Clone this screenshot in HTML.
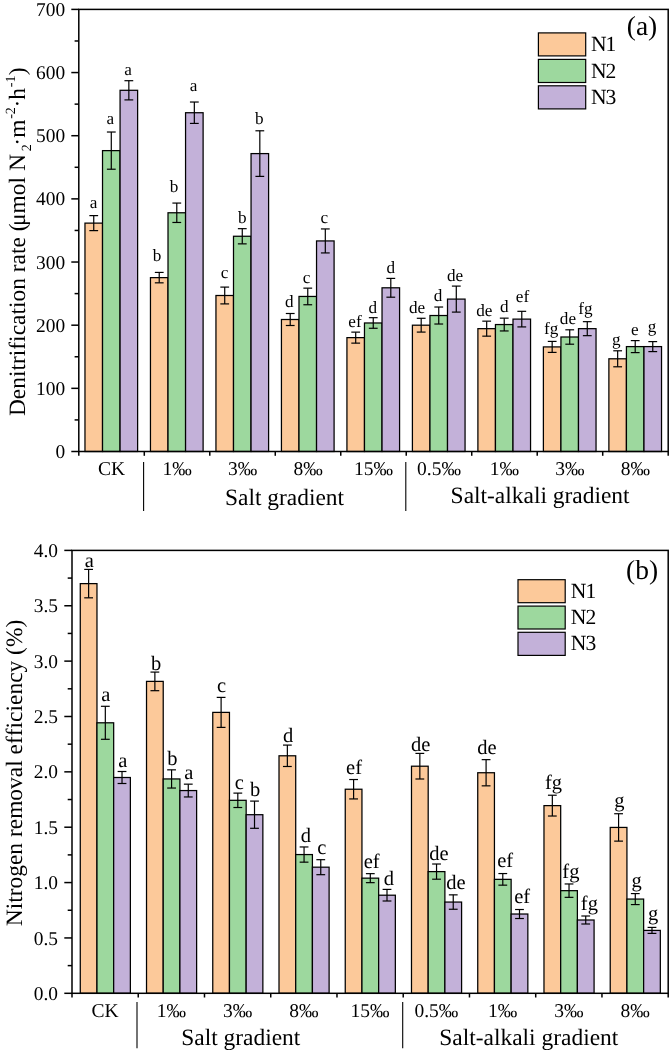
<!DOCTYPE html>
<html><head><meta charset="utf-8"><title>Figure</title>
<style>
html,body{margin:0;padding:0;background:#fff;}
body{width:670px;height:1054px;overflow:hidden;font-family:'Liberation Serif', serif;}
svg{display:block;will-change:transform;font-family:"Liberation Serif",serif;fill:#000;}
svg text{fill:#000;text-rendering:geometricPrecision;font-variant-ligatures:none;font-kerning:none;}
</style></head><body>
<svg width="670" height="1054" viewBox="0 0 670 1054">
<rect x="0" y="0" width="670" height="1054" fill="#fff"/>
<rect x="84.97" y="223.12" width="17.55" height="228.38" fill="#FCC99A" stroke="#000" stroke-width="1.25"/>
<line x1="93.74" y1="215.62" x2="93.74" y2="230.62" stroke="#000" stroke-width="1.2"/>
<line x1="89.34" y1="215.62" x2="98.14" y2="215.62" stroke="#000" stroke-width="1.2"/>
<line x1="89.34" y1="230.62" x2="98.14" y2="230.62" stroke="#000" stroke-width="1.2"/>
<text x="93.50" y="208.20" font-size="17.2" text-anchor="middle" >a</text>
<rect x="102.52" y="150.62" width="17.55" height="300.88" fill="#9DD89E" stroke="#000" stroke-width="1.25"/>
<line x1="111.29" y1="132.02" x2="111.29" y2="169.22" stroke="#000" stroke-width="1.2"/>
<line x1="106.89" y1="132.02" x2="115.69" y2="132.02" stroke="#000" stroke-width="1.2"/>
<line x1="106.89" y1="169.22" x2="115.69" y2="169.22" stroke="#000" stroke-width="1.2"/>
<text x="110.20" y="123.70" font-size="17.2" text-anchor="middle" >a</text>
<rect x="120.07" y="90.30" width="17.55" height="361.20" fill="#C3B1D9" stroke="#000" stroke-width="1.25"/>
<line x1="128.84" y1="80.70" x2="128.84" y2="99.90" stroke="#000" stroke-width="1.2"/>
<line x1="124.44" y1="80.70" x2="133.24" y2="80.70" stroke="#000" stroke-width="1.2"/>
<line x1="124.44" y1="99.90" x2="133.24" y2="99.90" stroke="#000" stroke-width="1.2"/>
<text x="128.10" y="74.50" font-size="17.2" text-anchor="middle" >a</text>
<rect x="150.46" y="277.63" width="17.55" height="173.87" fill="#FCC99A" stroke="#000" stroke-width="1.25"/>
<line x1="159.23" y1="272.43" x2="159.23" y2="282.83" stroke="#000" stroke-width="1.2"/>
<line x1="154.83" y1="272.43" x2="163.63" y2="272.43" stroke="#000" stroke-width="1.2"/>
<line x1="154.83" y1="282.83" x2="163.63" y2="282.83" stroke="#000" stroke-width="1.2"/>
<text x="157.00" y="260.60" font-size="17.2" text-anchor="middle" >b</text>
<rect x="168.01" y="212.77" width="17.55" height="238.73" fill="#9DD89E" stroke="#000" stroke-width="1.25"/>
<line x1="176.78" y1="203.07" x2="176.78" y2="222.47" stroke="#000" stroke-width="1.2"/>
<line x1="172.38" y1="203.07" x2="181.18" y2="203.07" stroke="#000" stroke-width="1.2"/>
<line x1="172.38" y1="222.47" x2="181.18" y2="222.47" stroke="#000" stroke-width="1.2"/>
<text x="174.10" y="192.40" font-size="17.2" text-anchor="middle" >b</text>
<rect x="185.56" y="112.73" width="17.55" height="338.77" fill="#C3B1D9" stroke="#000" stroke-width="1.25"/>
<line x1="194.33" y1="102.03" x2="194.33" y2="123.43" stroke="#000" stroke-width="1.2"/>
<line x1="189.93" y1="102.03" x2="198.73" y2="102.03" stroke="#000" stroke-width="1.2"/>
<line x1="189.93" y1="123.43" x2="198.73" y2="123.43" stroke="#000" stroke-width="1.2"/>
<text x="193.50" y="91.20" font-size="17.2" text-anchor="middle" >a</text>
<rect x="215.95" y="295.50" width="17.55" height="156.00" fill="#FCC99A" stroke="#000" stroke-width="1.25"/>
<line x1="224.72" y1="287.10" x2="224.72" y2="303.90" stroke="#000" stroke-width="1.2"/>
<line x1="220.32" y1="287.10" x2="229.12" y2="287.10" stroke="#000" stroke-width="1.2"/>
<line x1="220.32" y1="303.90" x2="229.12" y2="303.90" stroke="#000" stroke-width="1.2"/>
<text x="224.50" y="278.20" font-size="17.2" text-anchor="middle" >c</text>
<rect x="233.50" y="236.26" width="17.55" height="215.24" fill="#9DD89E" stroke="#000" stroke-width="1.25"/>
<line x1="242.27" y1="228.66" x2="242.27" y2="243.86" stroke="#000" stroke-width="1.2"/>
<line x1="237.87" y1="228.66" x2="246.67" y2="228.66" stroke="#000" stroke-width="1.2"/>
<line x1="237.87" y1="243.86" x2="246.67" y2="243.86" stroke="#000" stroke-width="1.2"/>
<text x="242.30" y="223.00" font-size="17.2" text-anchor="middle" >b</text>
<rect x="251.05" y="153.59" width="17.55" height="297.91" fill="#C3B1D9" stroke="#000" stroke-width="1.25"/>
<line x1="259.82" y1="130.79" x2="259.82" y2="176.39" stroke="#000" stroke-width="1.2"/>
<line x1="255.42" y1="130.79" x2="264.22" y2="130.79" stroke="#000" stroke-width="1.2"/>
<line x1="255.42" y1="176.39" x2="264.22" y2="176.39" stroke="#000" stroke-width="1.2"/>
<text x="259.20" y="123.70" font-size="17.2" text-anchor="middle" >b</text>
<rect x="281.44" y="319.50" width="17.55" height="132.00" fill="#FCC99A" stroke="#000" stroke-width="1.25"/>
<line x1="290.21" y1="313.50" x2="290.21" y2="325.50" stroke="#000" stroke-width="1.2"/>
<line x1="285.81" y1="313.50" x2="294.61" y2="313.50" stroke="#000" stroke-width="1.2"/>
<line x1="285.81" y1="325.50" x2="294.61" y2="325.50" stroke="#000" stroke-width="1.2"/>
<text x="289.30" y="306.90" font-size="17.2" text-anchor="middle" >d</text>
<rect x="298.99" y="296.45" width="17.55" height="155.05" fill="#9DD89E" stroke="#000" stroke-width="1.25"/>
<line x1="307.76" y1="288.15" x2="307.76" y2="304.75" stroke="#000" stroke-width="1.2"/>
<line x1="303.36" y1="288.15" x2="312.16" y2="288.15" stroke="#000" stroke-width="1.2"/>
<line x1="303.36" y1="304.75" x2="312.16" y2="304.75" stroke="#000" stroke-width="1.2"/>
<text x="306.60" y="283.00" font-size="17.2" text-anchor="middle" >c</text>
<rect x="316.54" y="240.93" width="17.55" height="210.57" fill="#C3B1D9" stroke="#000" stroke-width="1.25"/>
<line x1="325.31" y1="228.93" x2="325.31" y2="252.93" stroke="#000" stroke-width="1.2"/>
<line x1="320.91" y1="228.93" x2="329.71" y2="228.93" stroke="#000" stroke-width="1.2"/>
<line x1="320.91" y1="252.93" x2="329.71" y2="252.93" stroke="#000" stroke-width="1.2"/>
<text x="324.20" y="223.00" font-size="17.2" text-anchor="middle" >c</text>
<rect x="346.93" y="337.63" width="17.55" height="113.87" fill="#FCC99A" stroke="#000" stroke-width="1.25"/>
<line x1="355.70" y1="332.13" x2="355.70" y2="343.13" stroke="#000" stroke-width="1.2"/>
<line x1="351.30" y1="332.13" x2="360.10" y2="332.13" stroke="#000" stroke-width="1.2"/>
<line x1="351.30" y1="343.13" x2="360.10" y2="343.13" stroke="#000" stroke-width="1.2"/>
<text x="355.00" y="326.60" font-size="17.2" text-anchor="middle" >ef</text>
<rect x="364.48" y="322.98" width="17.55" height="128.52" fill="#9DD89E" stroke="#000" stroke-width="1.25"/>
<line x1="373.25" y1="317.68" x2="373.25" y2="328.28" stroke="#000" stroke-width="1.2"/>
<line x1="368.85" y1="317.68" x2="377.65" y2="317.68" stroke="#000" stroke-width="1.2"/>
<line x1="368.85" y1="328.28" x2="377.65" y2="328.28" stroke="#000" stroke-width="1.2"/>
<text x="372.90" y="312.50" font-size="17.2" text-anchor="middle" >d</text>
<rect x="382.03" y="287.80" width="17.55" height="163.70" fill="#C3B1D9" stroke="#000" stroke-width="1.25"/>
<line x1="390.80" y1="278.40" x2="390.80" y2="297.20" stroke="#000" stroke-width="1.2"/>
<line x1="386.40" y1="278.40" x2="395.20" y2="278.40" stroke="#000" stroke-width="1.2"/>
<line x1="386.40" y1="297.20" x2="395.20" y2="297.20" stroke="#000" stroke-width="1.2"/>
<text x="390.80" y="272.80" font-size="17.2" text-anchor="middle" >d</text>
<rect x="412.41" y="325.19" width="17.55" height="126.31" fill="#FCC99A" stroke="#000" stroke-width="1.25"/>
<line x1="421.19" y1="318.29" x2="421.19" y2="332.09" stroke="#000" stroke-width="1.2"/>
<line x1="416.79" y1="318.29" x2="425.59" y2="318.29" stroke="#000" stroke-width="1.2"/>
<line x1="416.79" y1="332.09" x2="425.59" y2="332.09" stroke="#000" stroke-width="1.2"/>
<text x="417.10" y="312.50" font-size="17.2" text-anchor="middle" >de</text>
<rect x="429.96" y="315.52" width="17.55" height="135.98" fill="#9DD89E" stroke="#000" stroke-width="1.25"/>
<line x1="438.74" y1="307.02" x2="438.74" y2="324.02" stroke="#000" stroke-width="1.2"/>
<line x1="434.34" y1="307.02" x2="443.14" y2="307.02" stroke="#000" stroke-width="1.2"/>
<line x1="434.34" y1="324.02" x2="443.14" y2="324.02" stroke="#000" stroke-width="1.2"/>
<text x="438.00" y="300.60" font-size="17.2" text-anchor="middle" >d</text>
<rect x="447.51" y="299.10" width="17.55" height="152.40" fill="#C3B1D9" stroke="#000" stroke-width="1.25"/>
<line x1="456.29" y1="286.10" x2="456.29" y2="312.10" stroke="#000" stroke-width="1.2"/>
<line x1="451.89" y1="286.10" x2="460.69" y2="286.10" stroke="#000" stroke-width="1.2"/>
<line x1="451.89" y1="312.10" x2="460.69" y2="312.10" stroke="#000" stroke-width="1.2"/>
<text x="455.00" y="280.90" font-size="17.2" text-anchor="middle" >de</text>
<rect x="477.90" y="328.66" width="17.55" height="122.84" fill="#FCC99A" stroke="#000" stroke-width="1.25"/>
<line x1="486.68" y1="321.16" x2="486.68" y2="336.16" stroke="#000" stroke-width="1.2"/>
<line x1="482.28" y1="321.16" x2="491.08" y2="321.16" stroke="#000" stroke-width="1.2"/>
<line x1="482.28" y1="336.16" x2="491.08" y2="336.16" stroke="#000" stroke-width="1.2"/>
<text x="484.30" y="316.10" font-size="17.2" text-anchor="middle" >de</text>
<rect x="495.45" y="324.55" width="17.55" height="126.95" fill="#9DD89E" stroke="#000" stroke-width="1.25"/>
<line x1="504.23" y1="318.15" x2="504.23" y2="330.95" stroke="#000" stroke-width="1.2"/>
<line x1="499.83" y1="318.15" x2="508.63" y2="318.15" stroke="#000" stroke-width="1.2"/>
<line x1="499.83" y1="330.95" x2="508.63" y2="330.95" stroke="#000" stroke-width="1.2"/>
<text x="504.30" y="311.60" font-size="17.2" text-anchor="middle" >d</text>
<rect x="513.00" y="319.12" width="17.55" height="132.38" fill="#C3B1D9" stroke="#000" stroke-width="1.25"/>
<line x1="521.78" y1="311.32" x2="521.78" y2="326.92" stroke="#000" stroke-width="1.2"/>
<line x1="517.38" y1="311.32" x2="526.18" y2="311.32" stroke="#000" stroke-width="1.2"/>
<line x1="517.38" y1="326.92" x2="526.18" y2="326.92" stroke="#000" stroke-width="1.2"/>
<text x="522.50" y="301.80" font-size="17.2" text-anchor="middle" >ef</text>
<rect x="543.39" y="346.91" width="17.55" height="104.59" fill="#FCC99A" stroke="#000" stroke-width="1.25"/>
<line x1="552.17" y1="341.41" x2="552.17" y2="352.41" stroke="#000" stroke-width="1.2"/>
<line x1="547.77" y1="341.41" x2="556.57" y2="341.41" stroke="#000" stroke-width="1.2"/>
<line x1="547.77" y1="352.41" x2="556.57" y2="352.41" stroke="#000" stroke-width="1.2"/>
<text x="551.20" y="333.70" font-size="17.2" text-anchor="middle" >fg</text>
<rect x="560.94" y="337.00" width="17.55" height="114.50" fill="#9DD89E" stroke="#000" stroke-width="1.25"/>
<line x1="569.72" y1="329.80" x2="569.72" y2="344.20" stroke="#000" stroke-width="1.2"/>
<line x1="565.32" y1="329.80" x2="574.12" y2="329.80" stroke="#000" stroke-width="1.2"/>
<line x1="565.32" y1="344.20" x2="574.12" y2="344.20" stroke="#000" stroke-width="1.2"/>
<text x="567.90" y="323.60" font-size="17.2" text-anchor="middle" >de</text>
<rect x="578.49" y="328.66" width="17.55" height="122.84" fill="#C3B1D9" stroke="#000" stroke-width="1.25"/>
<line x1="587.27" y1="321.66" x2="587.27" y2="335.66" stroke="#000" stroke-width="1.2"/>
<line x1="582.87" y1="321.66" x2="591.67" y2="321.66" stroke="#000" stroke-width="1.2"/>
<line x1="582.87" y1="335.66" x2="591.67" y2="335.66" stroke="#000" stroke-width="1.2"/>
<text x="585.50" y="313.90" font-size="17.2" text-anchor="middle" >fg</text>
<rect x="608.88" y="358.79" width="17.55" height="92.71" fill="#FCC99A" stroke="#000" stroke-width="1.25"/>
<line x1="617.66" y1="350.79" x2="617.66" y2="366.79" stroke="#000" stroke-width="1.2"/>
<line x1="613.26" y1="350.79" x2="622.06" y2="350.79" stroke="#000" stroke-width="1.2"/>
<line x1="613.26" y1="366.79" x2="622.06" y2="366.79" stroke="#000" stroke-width="1.2"/>
<text x="616.30" y="345.00" font-size="17.2" text-anchor="middle" >g</text>
<rect x="626.43" y="346.60" width="17.55" height="104.90" fill="#9DD89E" stroke="#000" stroke-width="1.25"/>
<line x1="635.21" y1="340.60" x2="635.21" y2="352.60" stroke="#000" stroke-width="1.2"/>
<line x1="630.81" y1="340.60" x2="639.61" y2="340.60" stroke="#000" stroke-width="1.2"/>
<line x1="630.81" y1="352.60" x2="639.61" y2="352.60" stroke="#000" stroke-width="1.2"/>
<text x="634.80" y="334.60" font-size="17.2" text-anchor="middle" >e</text>
<rect x="643.98" y="346.60" width="17.55" height="104.90" fill="#C3B1D9" stroke="#000" stroke-width="1.25"/>
<line x1="652.76" y1="341.60" x2="652.76" y2="351.60" stroke="#000" stroke-width="1.2"/>
<line x1="648.36" y1="341.60" x2="657.16" y2="341.60" stroke="#000" stroke-width="1.2"/>
<line x1="648.36" y1="351.60" x2="657.16" y2="351.60" stroke="#000" stroke-width="1.2"/>
<text x="652.10" y="332.30" font-size="17.2" text-anchor="middle" >g</text>
<rect x="78.80" y="9.40" width="589.40" height="442.10" fill="none" stroke="#000" stroke-width="1.5"/>
<line x1="71.30" y1="451.50" x2="78.80" y2="451.50" stroke="#000" stroke-width="1.5"/>
<text x="65.20" y="458.10" font-size="19.4" text-anchor="end" >0</text>
<line x1="74.60" y1="419.92" x2="78.80" y2="419.92" stroke="#000" stroke-width="1.5"/>
<line x1="71.30" y1="388.34" x2="78.80" y2="388.34" stroke="#000" stroke-width="1.5"/>
<text x="65.20" y="394.94" font-size="19.4" text-anchor="end" >100</text>
<line x1="74.60" y1="356.76" x2="78.80" y2="356.76" stroke="#000" stroke-width="1.5"/>
<line x1="71.30" y1="325.19" x2="78.80" y2="325.19" stroke="#000" stroke-width="1.5"/>
<text x="65.20" y="331.79" font-size="19.4" text-anchor="end" >200</text>
<line x1="74.60" y1="293.61" x2="78.80" y2="293.61" stroke="#000" stroke-width="1.5"/>
<line x1="71.30" y1="262.03" x2="78.80" y2="262.03" stroke="#000" stroke-width="1.5"/>
<text x="65.20" y="268.63" font-size="19.4" text-anchor="end" >300</text>
<line x1="74.60" y1="230.45" x2="78.80" y2="230.45" stroke="#000" stroke-width="1.5"/>
<line x1="71.30" y1="198.87" x2="78.80" y2="198.87" stroke="#000" stroke-width="1.5"/>
<text x="65.20" y="205.47" font-size="19.4" text-anchor="end" >400</text>
<line x1="74.60" y1="167.29" x2="78.80" y2="167.29" stroke="#000" stroke-width="1.5"/>
<line x1="71.30" y1="135.71" x2="78.80" y2="135.71" stroke="#000" stroke-width="1.5"/>
<text x="65.20" y="142.31" font-size="19.4" text-anchor="end" >500</text>
<line x1="74.60" y1="104.14" x2="78.80" y2="104.14" stroke="#000" stroke-width="1.5"/>
<line x1="71.30" y1="72.56" x2="78.80" y2="72.56" stroke="#000" stroke-width="1.5"/>
<text x="65.20" y="79.16" font-size="19.4" text-anchor="end" >600</text>
<line x1="74.60" y1="40.98" x2="78.80" y2="40.98" stroke="#000" stroke-width="1.5"/>
<line x1="71.30" y1="9.40" x2="78.80" y2="9.40" stroke="#000" stroke-width="1.5"/>
<text x="65.20" y="16.00" font-size="19.4" text-anchor="end" >700</text>
<line x1="78.80" y1="451.50" x2="78.80" y2="455.80" stroke="#000" stroke-width="1.5"/>
<line x1="144.29" y1="451.50" x2="144.29" y2="455.80" stroke="#000" stroke-width="1.5"/>
<line x1="209.78" y1="451.50" x2="209.78" y2="455.80" stroke="#000" stroke-width="1.5"/>
<line x1="275.27" y1="451.50" x2="275.27" y2="455.80" stroke="#000" stroke-width="1.5"/>
<line x1="340.76" y1="451.50" x2="340.76" y2="455.80" stroke="#000" stroke-width="1.5"/>
<line x1="406.24" y1="451.50" x2="406.24" y2="455.80" stroke="#000" stroke-width="1.5"/>
<line x1="471.73" y1="451.50" x2="471.73" y2="455.80" stroke="#000" stroke-width="1.5"/>
<line x1="537.22" y1="451.50" x2="537.22" y2="455.80" stroke="#000" stroke-width="1.5"/>
<line x1="602.71" y1="451.50" x2="602.71" y2="455.80" stroke="#000" stroke-width="1.5"/>
<line x1="668.20" y1="451.50" x2="668.20" y2="455.80" stroke="#000" stroke-width="1.5"/>
<text x="111.54" y="475.40" font-size="19.5" text-anchor="middle" >CK</text>
<text x="177.03" y="475.40" font-size="19.5" text-anchor="middle" >1‰</text>
<text x="242.52" y="475.40" font-size="19.5" text-anchor="middle" >3‰</text>
<text x="308.01" y="475.40" font-size="19.5" text-anchor="middle" >8‰</text>
<text x="373.50" y="475.40" font-size="19.5" text-anchor="middle" >15‰</text>
<text x="438.99" y="475.40" font-size="19.5" text-anchor="middle" >0.5‰</text>
<text x="504.48" y="475.40" font-size="19.5" text-anchor="middle" >1‰</text>
<text x="569.97" y="475.40" font-size="19.5" text-anchor="middle" >3‰</text>
<text x="635.46" y="475.40" font-size="19.5" text-anchor="middle" >8‰</text>
<line x1="143.60" y1="462.00" x2="143.60" y2="511.00" stroke="#000" stroke-width="1.1"/>
<line x1="405.80" y1="462.00" x2="405.80" y2="511.00" stroke="#000" stroke-width="1.1"/>
<text x="284.50" y="504.70" font-size="23.45" text-anchor="middle" >Salt gradient</text>
<text x="540.10" y="503.10" font-size="23.45" text-anchor="middle" >Salt-alkali gradient</text>
<rect x="538.40" y="32.90" width="47.30" height="23.00" fill="#FCC99A" stroke="#000" stroke-width="1.2"/>
<text x="590.90" y="51.20" font-size="21.6" text-anchor="start" letter-spacing="-0.9">N1</text>
<rect x="538.40" y="59.40" width="47.30" height="23.10" fill="#9DD89E" stroke="#000" stroke-width="1.2"/>
<text x="590.90" y="77.70" font-size="21.6" text-anchor="start" letter-spacing="-0.9">N2</text>
<rect x="538.40" y="85.80" width="47.30" height="23.10" fill="#C3B1D9" stroke="#000" stroke-width="1.2"/>
<text x="590.90" y="104.20" font-size="21.6" text-anchor="start" letter-spacing="-0.9">N3</text>
<text x="642.00" y="35.00" font-size="27.5" text-anchor="middle" >(a)</text>
<text transform="translate(24.80,241.70) rotate(-90)" font-size="23.45" text-anchor="middle">Denitrification rate (<tspan dx="-2.5">μmol N</tspan><tspan font-size="14" dy="6" dx="2.8">2</tspan><tspan dy="-6" dx="-1.3">·m</tspan><tspan font-size="14" dy="-10" dx="0.8">-2</tspan><tspan dy="10" dx="-0.3">·h</tspan><tspan font-size="14" dy="-10" dx="0.7">-1</tspan><tspan dy="10" dx="0.4">)</tspan></text>
<rect x="80.27" y="583.62" width="16.70" height="409.68" fill="#FCC99A" stroke="#000" stroke-width="1.25"/>
<line x1="88.62" y1="569.42" x2="88.62" y2="597.82" stroke="#000" stroke-width="1.2"/>
<line x1="84.22" y1="569.42" x2="93.02" y2="569.42" stroke="#000" stroke-width="1.2"/>
<line x1="84.22" y1="597.82" x2="93.02" y2="597.82" stroke="#000" stroke-width="1.2"/>
<text x="89.30" y="567.20" font-size="20.5" text-anchor="middle" >a</text>
<rect x="96.97" y="722.80" width="16.70" height="270.50" fill="#9DD89E" stroke="#000" stroke-width="1.25"/>
<line x1="105.32" y1="706.30" x2="105.32" y2="739.30" stroke="#000" stroke-width="1.2"/>
<line x1="100.92" y1="706.30" x2="109.72" y2="706.30" stroke="#000" stroke-width="1.2"/>
<line x1="100.92" y1="739.30" x2="109.72" y2="739.30" stroke="#000" stroke-width="1.2"/>
<text x="105.80" y="701.20" font-size="20.5" text-anchor="middle" >a</text>
<rect x="113.67" y="777.50" width="16.70" height="215.80" fill="#C3B1D9" stroke="#000" stroke-width="1.25"/>
<line x1="122.02" y1="771.50" x2="122.02" y2="783.50" stroke="#000" stroke-width="1.2"/>
<line x1="117.62" y1="771.50" x2="126.42" y2="771.50" stroke="#000" stroke-width="1.2"/>
<line x1="117.62" y1="783.50" x2="126.42" y2="783.50" stroke="#000" stroke-width="1.2"/>
<text x="122.80" y="767.00" font-size="20.5" text-anchor="middle" >a</text>
<rect x="146.52" y="681.39" width="16.70" height="311.91" fill="#FCC99A" stroke="#000" stroke-width="1.25"/>
<line x1="154.87" y1="672.09" x2="154.87" y2="690.69" stroke="#000" stroke-width="1.2"/>
<line x1="150.47" y1="672.09" x2="159.27" y2="672.09" stroke="#000" stroke-width="1.2"/>
<line x1="150.47" y1="690.69" x2="159.27" y2="690.69" stroke="#000" stroke-width="1.2"/>
<text x="156.00" y="670.00" font-size="20.5" text-anchor="middle" >b</text>
<rect x="163.22" y="778.94" width="16.70" height="214.36" fill="#9DD89E" stroke="#000" stroke-width="1.25"/>
<line x1="171.57" y1="769.84" x2="171.57" y2="788.04" stroke="#000" stroke-width="1.2"/>
<line x1="167.17" y1="769.84" x2="175.97" y2="769.84" stroke="#000" stroke-width="1.2"/>
<line x1="167.17" y1="788.04" x2="175.97" y2="788.04" stroke="#000" stroke-width="1.2"/>
<text x="172.40" y="765.20" font-size="20.5" text-anchor="middle" >b</text>
<rect x="179.92" y="790.56" width="16.70" height="202.74" fill="#C3B1D9" stroke="#000" stroke-width="1.25"/>
<line x1="188.27" y1="784.16" x2="188.27" y2="796.96" stroke="#000" stroke-width="1.2"/>
<line x1="183.87" y1="784.16" x2="192.67" y2="784.16" stroke="#000" stroke-width="1.2"/>
<line x1="183.87" y1="796.96" x2="192.67" y2="796.96" stroke="#000" stroke-width="1.2"/>
<text x="188.80" y="779.00" font-size="20.5" text-anchor="middle" >a</text>
<rect x="212.76" y="712.39" width="16.70" height="280.91" fill="#FCC99A" stroke="#000" stroke-width="1.25"/>
<line x1="221.11" y1="697.39" x2="221.11" y2="727.39" stroke="#000" stroke-width="1.2"/>
<line x1="216.71" y1="697.39" x2="225.51" y2="697.39" stroke="#000" stroke-width="1.2"/>
<line x1="216.71" y1="727.39" x2="225.51" y2="727.39" stroke="#000" stroke-width="1.2"/>
<text x="221.60" y="691.60" font-size="20.5" text-anchor="middle" >c</text>
<rect x="229.46" y="800.31" width="16.70" height="192.99" fill="#9DD89E" stroke="#000" stroke-width="1.25"/>
<line x1="237.81" y1="793.11" x2="237.81" y2="807.51" stroke="#000" stroke-width="1.2"/>
<line x1="233.41" y1="793.11" x2="242.21" y2="793.11" stroke="#000" stroke-width="1.2"/>
<line x1="233.41" y1="807.51" x2="242.21" y2="807.51" stroke="#000" stroke-width="1.2"/>
<text x="239.30" y="788.50" font-size="20.5" text-anchor="middle" >c</text>
<rect x="246.16" y="814.70" width="16.70" height="178.60" fill="#C3B1D9" stroke="#000" stroke-width="1.25"/>
<line x1="254.51" y1="801.10" x2="254.51" y2="828.30" stroke="#000" stroke-width="1.2"/>
<line x1="250.11" y1="801.10" x2="258.91" y2="801.10" stroke="#000" stroke-width="1.2"/>
<line x1="250.11" y1="828.30" x2="258.91" y2="828.30" stroke="#000" stroke-width="1.2"/>
<text x="255.10" y="796.00" font-size="20.5" text-anchor="middle" >b</text>
<rect x="279.01" y="755.79" width="16.70" height="237.51" fill="#FCC99A" stroke="#000" stroke-width="1.25"/>
<line x1="287.36" y1="745.09" x2="287.36" y2="766.49" stroke="#000" stroke-width="1.2"/>
<line x1="282.96" y1="745.09" x2="291.76" y2="745.09" stroke="#000" stroke-width="1.2"/>
<line x1="282.96" y1="766.49" x2="291.76" y2="766.49" stroke="#000" stroke-width="1.2"/>
<text x="288.00" y="741.50" font-size="20.5" text-anchor="middle" >d</text>
<rect x="295.71" y="854.56" width="16.70" height="138.74" fill="#9DD89E" stroke="#000" stroke-width="1.25"/>
<line x1="304.06" y1="846.96" x2="304.06" y2="862.16" stroke="#000" stroke-width="1.2"/>
<line x1="299.66" y1="846.96" x2="308.46" y2="846.96" stroke="#000" stroke-width="1.2"/>
<line x1="299.66" y1="862.16" x2="308.46" y2="862.16" stroke="#000" stroke-width="1.2"/>
<text x="305.90" y="841.80" font-size="20.5" text-anchor="middle" >d</text>
<rect x="312.41" y="867.18" width="16.70" height="126.12" fill="#C3B1D9" stroke="#000" stroke-width="1.25"/>
<line x1="320.76" y1="859.68" x2="320.76" y2="874.68" stroke="#000" stroke-width="1.2"/>
<line x1="316.36" y1="859.68" x2="325.16" y2="859.68" stroke="#000" stroke-width="1.2"/>
<line x1="316.36" y1="874.68" x2="325.16" y2="874.68" stroke="#000" stroke-width="1.2"/>
<text x="321.70" y="854.30" font-size="20.5" text-anchor="middle" >c</text>
<rect x="345.25" y="789.23" width="16.70" height="204.07" fill="#FCC99A" stroke="#000" stroke-width="1.25"/>
<line x1="353.60" y1="779.53" x2="353.60" y2="798.93" stroke="#000" stroke-width="1.2"/>
<line x1="349.20" y1="779.53" x2="358.00" y2="779.53" stroke="#000" stroke-width="1.2"/>
<line x1="349.20" y1="798.93" x2="358.00" y2="798.93" stroke="#000" stroke-width="1.2"/>
<text x="354.00" y="773.70" font-size="20.5" text-anchor="middle" >ef</text>
<rect x="361.95" y="878.15" width="16.70" height="115.15" fill="#9DD89E" stroke="#000" stroke-width="1.25"/>
<line x1="370.30" y1="873.65" x2="370.30" y2="882.65" stroke="#000" stroke-width="1.2"/>
<line x1="365.90" y1="873.65" x2="374.70" y2="873.65" stroke="#000" stroke-width="1.2"/>
<line x1="365.90" y1="882.65" x2="374.70" y2="882.65" stroke="#000" stroke-width="1.2"/>
<text x="371.60" y="867.80" font-size="20.5" text-anchor="middle" >ef</text>
<rect x="378.65" y="895.20" width="16.70" height="98.10" fill="#C3B1D9" stroke="#000" stroke-width="1.25"/>
<line x1="387.00" y1="889.40" x2="387.00" y2="901.00" stroke="#000" stroke-width="1.2"/>
<line x1="382.60" y1="889.40" x2="391.40" y2="889.40" stroke="#000" stroke-width="1.2"/>
<line x1="382.60" y1="901.00" x2="391.40" y2="901.00" stroke="#000" stroke-width="1.2"/>
<text x="388.90" y="885.10" font-size="20.5" text-anchor="middle" >d</text>
<rect x="411.49" y="766.20" width="16.70" height="227.10" fill="#FCC99A" stroke="#000" stroke-width="1.25"/>
<line x1="419.84" y1="753.40" x2="419.84" y2="779.00" stroke="#000" stroke-width="1.2"/>
<line x1="415.44" y1="753.40" x2="424.24" y2="753.40" stroke="#000" stroke-width="1.2"/>
<line x1="415.44" y1="779.00" x2="424.24" y2="779.00" stroke="#000" stroke-width="1.2"/>
<text x="420.80" y="750.70" font-size="20.5" text-anchor="middle" >de</text>
<rect x="428.19" y="871.61" width="16.70" height="121.69" fill="#9DD89E" stroke="#000" stroke-width="1.25"/>
<line x1="436.54" y1="864.01" x2="436.54" y2="879.21" stroke="#000" stroke-width="1.2"/>
<line x1="432.14" y1="864.01" x2="440.94" y2="864.01" stroke="#000" stroke-width="1.2"/>
<line x1="432.14" y1="879.21" x2="440.94" y2="879.21" stroke="#000" stroke-width="1.2"/>
<text x="439.00" y="859.70" font-size="20.5" text-anchor="middle" >de</text>
<rect x="444.89" y="902.06" width="16.70" height="91.24" fill="#C3B1D9" stroke="#000" stroke-width="1.25"/>
<line x1="453.24" y1="894.86" x2="453.24" y2="909.26" stroke="#000" stroke-width="1.2"/>
<line x1="448.84" y1="894.86" x2="457.64" y2="894.86" stroke="#000" stroke-width="1.2"/>
<line x1="448.84" y1="909.26" x2="457.64" y2="909.26" stroke="#000" stroke-width="1.2"/>
<text x="456.00" y="889.30" font-size="20.5" text-anchor="middle" >de</text>
<rect x="477.74" y="772.74" width="16.70" height="220.56" fill="#FCC99A" stroke="#000" stroke-width="1.25"/>
<line x1="486.09" y1="759.64" x2="486.09" y2="785.84" stroke="#000" stroke-width="1.2"/>
<line x1="481.69" y1="759.64" x2="490.49" y2="759.64" stroke="#000" stroke-width="1.2"/>
<line x1="481.69" y1="785.84" x2="490.49" y2="785.84" stroke="#000" stroke-width="1.2"/>
<text x="487.00" y="754.00" font-size="20.5" text-anchor="middle" >de</text>
<rect x="494.44" y="879.36" width="16.70" height="113.94" fill="#9DD89E" stroke="#000" stroke-width="1.25"/>
<line x1="502.79" y1="873.56" x2="502.79" y2="885.16" stroke="#000" stroke-width="1.2"/>
<line x1="498.39" y1="873.56" x2="507.19" y2="873.56" stroke="#000" stroke-width="1.2"/>
<line x1="498.39" y1="885.16" x2="507.19" y2="885.16" stroke="#000" stroke-width="1.2"/>
<text x="505.20" y="866.90" font-size="20.5" text-anchor="middle" >ef</text>
<rect x="511.14" y="914.02" width="16.70" height="79.28" fill="#C3B1D9" stroke="#000" stroke-width="1.25"/>
<line x1="519.49" y1="909.52" x2="519.49" y2="918.52" stroke="#000" stroke-width="1.2"/>
<line x1="515.09" y1="909.52" x2="523.89" y2="909.52" stroke="#000" stroke-width="1.2"/>
<line x1="515.09" y1="918.52" x2="523.89" y2="918.52" stroke="#000" stroke-width="1.2"/>
<text x="522.20" y="902.70" font-size="20.5" text-anchor="middle" >ef</text>
<rect x="543.98" y="805.62" width="16.70" height="187.68" fill="#FCC99A" stroke="#000" stroke-width="1.25"/>
<line x1="552.33" y1="795.22" x2="552.33" y2="816.02" stroke="#000" stroke-width="1.2"/>
<line x1="547.93" y1="795.22" x2="556.73" y2="795.22" stroke="#000" stroke-width="1.2"/>
<line x1="547.93" y1="816.02" x2="556.73" y2="816.02" stroke="#000" stroke-width="1.2"/>
<text x="553.60" y="788.70" font-size="20.5" text-anchor="middle" >fg</text>
<rect x="560.68" y="890.66" width="16.70" height="102.64" fill="#9DD89E" stroke="#000" stroke-width="1.25"/>
<line x1="569.03" y1="883.96" x2="569.03" y2="897.36" stroke="#000" stroke-width="1.2"/>
<line x1="564.63" y1="883.96" x2="573.43" y2="883.96" stroke="#000" stroke-width="1.2"/>
<line x1="564.63" y1="897.36" x2="573.43" y2="897.36" stroke="#000" stroke-width="1.2"/>
<text x="570.90" y="877.90" font-size="20.5" text-anchor="middle" >fg</text>
<rect x="577.38" y="920.00" width="16.70" height="73.30" fill="#C3B1D9" stroke="#000" stroke-width="1.25"/>
<line x1="585.73" y1="916.00" x2="585.73" y2="924.00" stroke="#000" stroke-width="1.2"/>
<line x1="581.33" y1="916.00" x2="590.13" y2="916.00" stroke="#000" stroke-width="1.2"/>
<line x1="581.33" y1="924.00" x2="590.13" y2="924.00" stroke="#000" stroke-width="1.2"/>
<text x="589.40" y="909.60" font-size="20.5" text-anchor="middle" >fg</text>
<rect x="610.23" y="827.43" width="16.70" height="165.87" fill="#FCC99A" stroke="#000" stroke-width="1.25"/>
<line x1="618.58" y1="813.73" x2="618.58" y2="841.13" stroke="#000" stroke-width="1.2"/>
<line x1="614.18" y1="813.73" x2="622.98" y2="813.73" stroke="#000" stroke-width="1.2"/>
<line x1="614.18" y1="841.13" x2="622.98" y2="841.13" stroke="#000" stroke-width="1.2"/>
<text x="619.30" y="806.90" font-size="20.5" text-anchor="middle" >g</text>
<rect x="626.93" y="899.07" width="16.70" height="94.23" fill="#9DD89E" stroke="#000" stroke-width="1.25"/>
<line x1="635.28" y1="893.57" x2="635.28" y2="904.57" stroke="#000" stroke-width="1.2"/>
<line x1="630.88" y1="893.57" x2="639.68" y2="893.57" stroke="#000" stroke-width="1.2"/>
<line x1="630.88" y1="904.57" x2="639.68" y2="904.57" stroke="#000" stroke-width="1.2"/>
<text x="636.60" y="886.90" font-size="20.5" text-anchor="middle" >g</text>
<rect x="643.63" y="930.41" width="16.70" height="62.89" fill="#C3B1D9" stroke="#000" stroke-width="1.25"/>
<line x1="651.98" y1="927.41" x2="651.98" y2="933.41" stroke="#000" stroke-width="1.2"/>
<line x1="647.58" y1="927.41" x2="656.38" y2="927.41" stroke="#000" stroke-width="1.2"/>
<line x1="647.58" y1="933.41" x2="656.38" y2="933.41" stroke="#000" stroke-width="1.2"/>
<text x="653.00" y="919.90" font-size="20.5" text-anchor="middle" >g</text>
<rect x="72.00" y="550.40" width="596.20" height="442.90" fill="none" stroke="#000" stroke-width="1.5"/>
<line x1="64.30" y1="993.30" x2="72.00" y2="993.30" stroke="#000" stroke-width="1.5"/>
<text x="58.00" y="999.90" font-size="19.4" text-anchor="end" >0.0</text>
<line x1="67.70" y1="965.62" x2="72.00" y2="965.62" stroke="#000" stroke-width="1.5"/>
<line x1="64.30" y1="937.94" x2="72.00" y2="937.94" stroke="#000" stroke-width="1.5"/>
<text x="58.00" y="944.54" font-size="19.4" text-anchor="end" >0.5</text>
<line x1="67.70" y1="910.26" x2="72.00" y2="910.26" stroke="#000" stroke-width="1.5"/>
<line x1="64.30" y1="882.57" x2="72.00" y2="882.57" stroke="#000" stroke-width="1.5"/>
<text x="58.00" y="889.17" font-size="19.4" text-anchor="end" >1.0</text>
<line x1="67.70" y1="854.89" x2="72.00" y2="854.89" stroke="#000" stroke-width="1.5"/>
<line x1="64.30" y1="827.21" x2="72.00" y2="827.21" stroke="#000" stroke-width="1.5"/>
<text x="58.00" y="833.81" font-size="19.4" text-anchor="end" >1.5</text>
<line x1="67.70" y1="799.53" x2="72.00" y2="799.53" stroke="#000" stroke-width="1.5"/>
<line x1="64.30" y1="771.85" x2="72.00" y2="771.85" stroke="#000" stroke-width="1.5"/>
<text x="58.00" y="778.45" font-size="19.4" text-anchor="end" >2.0</text>
<line x1="67.70" y1="744.17" x2="72.00" y2="744.17" stroke="#000" stroke-width="1.5"/>
<line x1="64.30" y1="716.49" x2="72.00" y2="716.49" stroke="#000" stroke-width="1.5"/>
<text x="58.00" y="723.09" font-size="19.4" text-anchor="end" >2.5</text>
<line x1="67.70" y1="688.81" x2="72.00" y2="688.81" stroke="#000" stroke-width="1.5"/>
<line x1="64.30" y1="661.12" x2="72.00" y2="661.12" stroke="#000" stroke-width="1.5"/>
<text x="58.00" y="667.73" font-size="19.4" text-anchor="end" >3.0</text>
<line x1="67.70" y1="633.44" x2="72.00" y2="633.44" stroke="#000" stroke-width="1.5"/>
<line x1="64.30" y1="605.76" x2="72.00" y2="605.76" stroke="#000" stroke-width="1.5"/>
<text x="58.00" y="612.36" font-size="19.4" text-anchor="end" >3.5</text>
<line x1="67.70" y1="578.08" x2="72.00" y2="578.08" stroke="#000" stroke-width="1.5"/>
<line x1="64.30" y1="550.40" x2="72.00" y2="550.40" stroke="#000" stroke-width="1.5"/>
<text x="58.00" y="557.00" font-size="19.4" text-anchor="end" >4.0</text>
<line x1="72.00" y1="993.30" x2="72.00" y2="997.50" stroke="#000" stroke-width="1.5"/>
<line x1="138.24" y1="993.30" x2="138.24" y2="997.50" stroke="#000" stroke-width="1.5"/>
<line x1="204.49" y1="993.30" x2="204.49" y2="997.50" stroke="#000" stroke-width="1.5"/>
<line x1="270.73" y1="993.30" x2="270.73" y2="997.50" stroke="#000" stroke-width="1.5"/>
<line x1="336.98" y1="993.30" x2="336.98" y2="997.50" stroke="#000" stroke-width="1.5"/>
<line x1="403.22" y1="993.30" x2="403.22" y2="997.50" stroke="#000" stroke-width="1.5"/>
<line x1="469.47" y1="993.30" x2="469.47" y2="997.50" stroke="#000" stroke-width="1.5"/>
<line x1="535.71" y1="993.30" x2="535.71" y2="997.50" stroke="#000" stroke-width="1.5"/>
<line x1="601.96" y1="993.30" x2="601.96" y2="997.50" stroke="#000" stroke-width="1.5"/>
<line x1="668.20" y1="993.30" x2="668.20" y2="997.50" stroke="#000" stroke-width="1.5"/>
<text x="105.12" y="1017.20" font-size="19.5" text-anchor="middle" >CK</text>
<text x="171.37" y="1017.20" font-size="19.5" text-anchor="middle" >1‰</text>
<text x="237.61" y="1017.20" font-size="19.5" text-anchor="middle" >3‰</text>
<text x="303.86" y="1017.20" font-size="19.5" text-anchor="middle" >8‰</text>
<text x="370.10" y="1017.20" font-size="19.5" text-anchor="middle" >15‰</text>
<text x="436.34" y="1017.20" font-size="19.5" text-anchor="middle" >0.5‰</text>
<text x="502.59" y="1017.20" font-size="19.5" text-anchor="middle" >1‰</text>
<text x="568.83" y="1017.20" font-size="19.5" text-anchor="middle" >3‰</text>
<text x="635.08" y="1017.20" font-size="19.5" text-anchor="middle" >8‰</text>
<line x1="137.00" y1="1002.00" x2="137.00" y2="1048.20" stroke="#000" stroke-width="1.1"/>
<line x1="402.70" y1="1002.00" x2="402.70" y2="1048.20" stroke="#000" stroke-width="1.1"/>
<text x="240.80" y="1045.20" font-size="23.45" text-anchor="middle" >Salt gradient</text>
<text x="528.80" y="1045.10" font-size="23.45" text-anchor="middle" >Salt-alkali gradient</text>
<rect x="518.00" y="579.70" width="47.20" height="23.00" fill="#FCC99A" stroke="#000" stroke-width="1.2"/>
<text x="570.70" y="598.00" font-size="21.6" text-anchor="start" letter-spacing="-0.9">N1</text>
<rect x="518.00" y="606.10" width="47.20" height="22.90" fill="#9DD89E" stroke="#000" stroke-width="1.2"/>
<text x="570.70" y="624.20" font-size="21.6" text-anchor="start" letter-spacing="-0.9">N2</text>
<rect x="518.00" y="632.30" width="47.20" height="23.10" fill="#C3B1D9" stroke="#000" stroke-width="1.2"/>
<text x="570.70" y="650.30" font-size="21.6" text-anchor="start" letter-spacing="-0.9">N3</text>
<text x="642.10" y="579.40" font-size="27.5" text-anchor="middle" >(b)</text>
<text transform="translate(21.60,773.00) rotate(-90)" font-size="23.45" text-anchor="middle">Nitrogen removal efficiency (%)</text>
</svg>
</body></html>
